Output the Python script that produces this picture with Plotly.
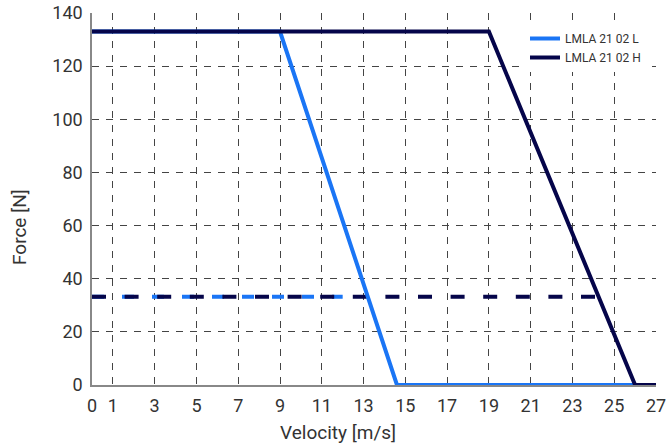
import plotly.graph_objects as go

# Data
l_x = [0, 9, 14.6, 27]
l_y = [133, 133, 0, 0]
h_x = [0, 19, 26, 27]
h_y = [133, 133, 0, 0]
l_dash_x = [0, 12.0]
h_dash_x = [0, 24.25]
dash_y = 33.25
x_ticks = [0, 1, 3, 5, 7, 9, 11, 13, 15, 17, 19, 21, 23, 25, 27]
y_ticks = [0, 20, 40, 60, 80, 100, 120, 140]
x_title = "Velocity [m/s]"
y_title = "Force [N]"

BLUE = "#1a75f5"
NAVY = "#05054a"

fig = go.Figure()
fig.add_trace(go.Scatter(x=l_dash_x, y=[dash_y, dash_y], mode="lines",
                         line=dict(color=BLUE, width=4, dash="12px,18px"),
                         showlegend=False, hoverinfo="skip"))
fig.add_trace(go.Scatter(x=h_dash_x, y=[dash_y, dash_y], mode="lines",
                         line=dict(color=NAVY, width=4, dash="14px,18.6px"),
                         showlegend=False, hoverinfo="skip"))
fig.add_trace(go.Scatter(x=l_x, y=l_y, mode="lines", name="LMLA 21 02 L",
                         line=dict(color=BLUE, width=4)))
fig.add_trace(go.Scatter(x=h_x, y=h_y, mode="lines", name="LMLA 21 02 H",
                         line=dict(color=NAVY, width=4)))

axis_common = dict(
    showline=True, linecolor="#888888", linewidth=1.5,
    showgrid=True, gridcolor="#444444", griddash="7px,7px", gridwidth=1,
    zeroline=False, ticks="", automargin=False, ticklabeloverflow="allow",
    tickfont=dict(family="Roboto", size=18, color="#333333"),
)

fig.update_xaxes(range=[0, 27], tickmode="array", tickvals=x_ticks,
                 ticklabelstandoff=4, **axis_common)
fig.update_yaxes(range=[0, 140], tickmode="array", tickvals=y_ticks,
                 ticklabelstandoff=4, **axis_common)

title_font = dict(family="Roboto", size=19, color="#333333")
fig.add_annotation(text=x_title, xref="paper", yref="paper",
                   x=(338 - 92) / 564, y=-47 / 372, xanchor="center", yanchor="middle",
                   showarrow=False, font=title_font)
fig.add_annotation(text=y_title, xref="paper", yref="paper",
                   x=(20 - 92) / 564, y=(385 - 227) / 372, xanchor="center", yanchor="middle",
                   textangle=-90, showarrow=False, font=title_font)

fig.update_layout(
    width=666, height=447,
    margin=dict(l=92, r=10, t=13, b=62),
    plot_bgcolor="white", paper_bgcolor="white",
    font=dict(family="Roboto", color="#333333"),
    legend=dict(x=(525 - 92) / 564, y=(385 - 24) / 372, xanchor="left", yanchor="top",
                bgcolor="white", font=dict(family="Roboto", size=12, color="#333333"),
                itemwidth=30, tracegroupgap=0),
    showlegend=True,
)

fig.write_html("out.html")
